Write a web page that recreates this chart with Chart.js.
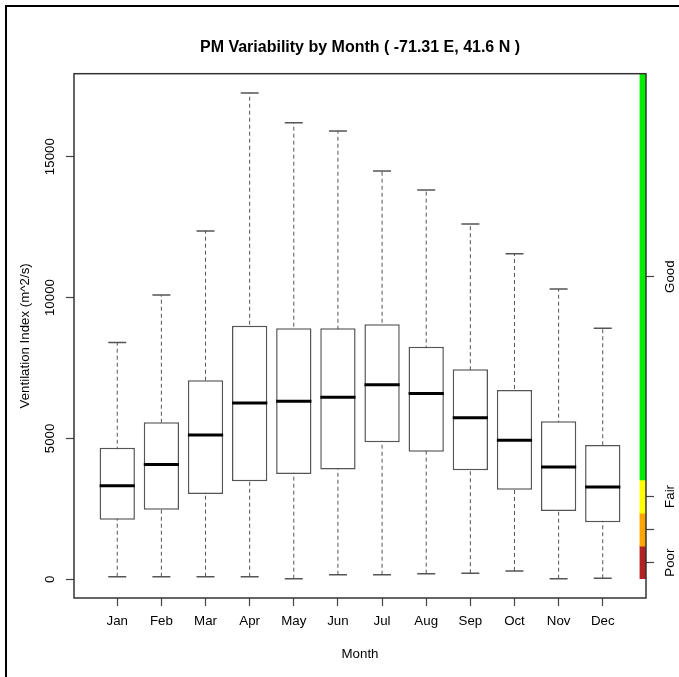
<!DOCTYPE html>
<html>
<head>
<meta charset="utf-8">
<title>PM Variability by Month</title>
<script src="https://cdn.jsdelivr.net/npm/chart.js@4/dist/chart.umd.min.js"></script>
<style>
    html, body { margin: 0; padding: 0; background: #fff; }
    #wrap { position: relative; width: 679px; height: 677px; overflow: hidden; }
    #frame {
        position: absolute; left: 5px; top: 5px; width: 700px; height: 700px;
        border-top: 2px solid #000; border-left: 2px solid #000;
    }
    #chart { position: absolute; left: 0; top: 0; }
</style>
</head>
<body>
<div id="wrap">
    <div id="frame"></div>
    <canvas id="chart" width="679" height="677"></canvas>
</div>
<script>
// Monthly boxplot of ventilation index, with the Poor/Fair/Good band strip on the right.

const MONTHS = ['Jan', 'Feb', 'Mar', 'Apr', 'May', 'Jun', 'Jul', 'Aug', 'Sep', 'Oct', 'Nov', 'Dec'];

// whisker ends, quartiles and medians (m^2/s)
const LOWER  = [90, 90, 90, 90, 20, 160, 160, 200, 215, 295, 20, 35];
const Q1     = [2115, 2470, 3030, 3480, 3740, 3900, 4860, 4530, 3870, 3180, 2425, 2025];
const MEDIAN = [3320, 4070, 5120, 6260, 6320, 6460, 6900, 6590, 5735, 4935, 3985, 3275];
const Q3     = [4670, 5575, 7065, 9000, 8910, 8910, 9050, 8255, 7455, 6720, 5610, 4765];
const UPPER  = [8400, 10090, 12360, 17260, 16200, 15910, 14490, 13820, 12610, 11550, 10300, 8910];

const Y_TICKS = [0, 5000, 10000, 15000];
const Y_MIN = -665;
const Y_MAX = 17945;
const X_MIN = 0.02;
const X_MAX = 12.98;

// category strip: band limits, colours, right-axis ticks + labels
const BAND_X      = 12.91;
const BAND_LOW    = [0, 1175, 2350, 3525];
const BAND_HIGH   = [1175, 2350, 3525, Y_MAX];
const BAND_COLORS = ['#b22222', '#ffa500', '#ffff00', '#00ee00'];
const BAND_TICKS  = [590, 1760, 2940, 10740];
const BAND_LABELS = ['Poor', '', 'Fair', 'Good'];

const FONT = '"Liberation Sans", Arial, Helvetica, sans-serif';
const FONT_SIZE = 13.3;

const pos = MONTHS.map((m, i) => i + 1);

const whiskerPts = [];
pos.forEach((x, i) => {
    whiskerPts.push({ x, y: LOWER[i] }, { x, y: UPPER[i] }, { x, y: null });
});
const capPts = [];
pos.forEach((x, i) => {
    capPts.push({ x, y: LOWER[i] }, { x, y: UPPER[i] });
});

// vertical (bottom-to-top) tick labels, as R draws them with las=0
function drawUp(ctx, text, x, y) {
    ctx.save();
    ctx.translate(x, y);
    ctx.rotate(-Math.PI / 2);
    ctx.fillText(text, 0, 0);
    ctx.restore();
}

const rAxes = {
    id: 'rAxes',
    afterDatasetsDraw(chart) {
        const { ctx, chartArea: a } = chart;
        ctx.save();
        ctx.strokeStyle = '#333';
        ctx.lineWidth = 1.5;
        ctx.strokeRect(a.left, a.top, a.right - a.left, a.bottom - a.top);
        ctx.restore();
    },
    afterDraw(chart) {
        const ctx = chart.ctx;
        ctx.save();
        ctx.font = `${FONT_SIZE}px ${FONT}`;
        ctx.fillStyle = '#000';
        ctx.textAlign = 'center';
        ctx.textBaseline = 'middle';
        const y = chart.scales.y;
        y.ticks.forEach(t => drawUp(ctx, String(t.value), y.right - 24, y.getPixelForValue(t.value)));
        const y2 = chart.scales.y2;
        y2.ticks.forEach((t, i) => drawUp(ctx, BAND_LABELS[i], y2.left + 24, y2.getPixelForValue(t.value)));
        ctx.restore();
    },
};

const tickGrid = {
    display: true,
    offset: false,
    drawOnChartArea: false,
    drawTicks: true,
    tickLength: 8,
    tickColor: '#444',
    tickWidth: 1.2,
};

new Chart(document.getElementById('chart'), {
    type: 'bar',
    data: {
        datasets: [
            {
                type: 'line',
                data: whiskerPts,
                borderColor: '#555',
                borderWidth: 1,
                borderDash: [4, 3],
                pointRadius: 0,
                spanGaps: false,
                xAxisID: 'x',
                order: 5,
            },
            {
                data: pos.map((x, i) => ({ x, y: [Q1[i], Q3[i]] })),
                backgroundColor: '#fff',
                borderColor: '#555',
                borderWidth: 1.5,
                borderSkipped: false,
                barPercentage: 0.8,
                categoryPercentage: 1,
                grouped: false,
                xAxisID: 'x',
                order: 4,
            },
            {
                data: BAND_LOW.map((lo, i) => ({ x: BAND_X, y: [lo, BAND_HIGH[i]] })),
                backgroundColor: BAND_COLORS,
                borderWidth: 0,
                barThickness: 6,
                grouped: false,
                xAxisID: 'x2',
                order: 3,
            },
            {
                type: 'line',
                data: capPts,
                showLine: false,
                pointStyle: 'line',
                pointRadius: 9,
                pointBorderWidth: 1.5,
                pointBorderColor: '#555',
                xAxisID: 'x',
                order: 2,
            },
            {
                type: 'line',
                data: pos.map((x, i) => ({ x, y: MEDIAN[i] })),
                showLine: false,
                pointStyle: 'line',
                pointRadius: 17.6,
                pointBorderWidth: 3,
                pointBorderColor: '#000',
                xAxisID: 'x',
                order: 1,
            },
        ],
    },
    options: {
        responsive: false,
        animation: false,
        events: [],
        layout: { padding: { left: 0, right: 0, top: 0, bottom: 7 } },
        plugins: {
            legend: { display: false },
            tooltip: { enabled: false },
            title: {
                display: true,
                fullSize: false,
                text: 'PM Variability by Month ( -71.31 E, 41.6 N )',
                color: '#000',
                font: { family: FONT, size: 16, weight: 'bold' },
                padding: { top: 38, bottom: 16.5 },
            },
        },
        scales: {
            x: {
                type: 'linear',
                position: 'bottom',
                offset: false,
                min: X_MIN,
                max: X_MAX,
                afterBuildTicks: s => { s.ticks = pos.map(v => ({ value: v })); },
                afterFit: s => { s.height = 72; },
                ticks: {
                    autoSkip: false,
                    maxRotation: 0,
                    padding: 7.7,
                    color: '#000',
                    font: { family: FONT, size: FONT_SIZE },
                    callback: v => MONTHS[v - 1],
                },
                grid: tickGrid,
                border: { display: false },
                title: {
                    display: true,
                    text: 'Month',
                    color: '#000',
                    font: { family: FONT, size: FONT_SIZE },
                    padding: { top: 0, bottom: 7.7 },
                },
            },
            x2: {
                type: 'linear',
                display: false,
                offset: false,
                min: X_MIN,
                max: X_MAX,
            },
            y: {
                type: 'linear',
                position: 'left',
                min: Y_MIN,
                max: Y_MAX,
                afterBuildTicks: s => { s.ticks = Y_TICKS.map(v => ({ value: v })); },
                afterFit: s => { s.width = 74; },
                ticks: { display: false },
                grid: tickGrid,
                border: { display: false },
                title: {
                    display: true,
                    text: 'Ventilation Index (m^2/s)',
                    color: '#000',
                    font: { family: FONT, size: FONT_SIZE },
                    padding: { top: 17 },
                },
            },
            y2: {
                type: 'linear',
                position: 'right',
                min: Y_MIN,
                max: Y_MAX,
                afterBuildTicks: s => { s.ticks = BAND_TICKS.map(v => ({ value: v })); },
                afterFit: s => { s.width = 33; },
                ticks: { display: false },
                grid: tickGrid,
                border: { display: false },
            },
        },
    },
    plugins: [rAxes],
});
</script>
</body>
</html>
